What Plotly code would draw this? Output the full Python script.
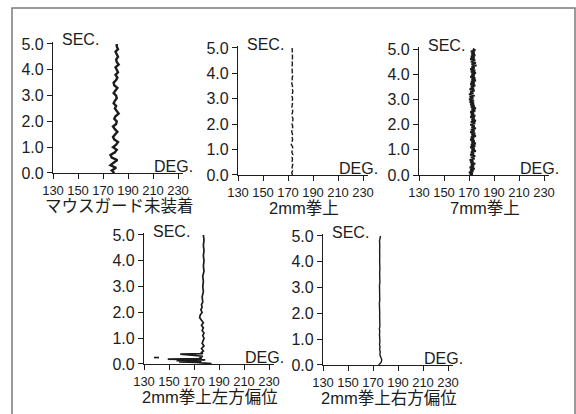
import plotly.graph_objects as go

W, H = 576, 414

# ---- data: head angle (DEG.) against time (SEC.) for each condition ----
titles = ["マウスガード未装着", "2mm拳上", "7mm拳上", "2mm拳上左方偏位", "2mm拳上右方偏位"]

x_ticks = [130, 150, 170, 190, 210, 230]
y_ticks = [0.0, 1.0, 2.0, 3.0, 4.0, 5.0]

sec_a = [0.0, 0.1, 0.2, 0.3, 0.4, 0.5, 0.6, 0.7, 0.8, 0.9,
         1.0, 1.1, 1.2, 1.3, 1.4, 1.5, 1.6, 1.7, 1.8, 1.9,
         2.0, 2.1, 2.2, 2.3, 2.4, 2.5, 2.6, 2.7, 2.8, 2.9,
         3.0, 3.1, 3.2, 3.3, 3.4, 3.5, 3.6, 3.7, 3.8, 3.9,
         4.0, 4.1, 4.2, 4.3, 4.4, 4.5, 4.6, 4.7, 4.8, 4.9, 5.0]

deg_no_guard = [179.0, 177.0, 180.5, 176.0, 178.5, 181.5, 177.0, 176.0, 179.5, 181.0,
                178.0, 180.5, 182.0, 179.0, 178.0, 180.0, 181.5, 179.5, 178.0, 180.5,
                181.0, 179.0, 180.0, 182.5, 181.0, 179.5, 180.5, 178.5, 179.5, 181.0,
                180.5, 178.5, 180.0, 181.5, 179.0, 178.5, 180.5, 181.5, 180.0, 182.0,
                181.0, 180.0, 182.5, 181.0, 180.5, 182.0, 181.0, 180.0, 182.0, 181.0, 181.0]

deg_2mm = [173.5, 173.0, 174.0, 173.2, 173.8, 173.0, 173.6, 173.3, 173.9, 173.1,
           173.5, 173.8, 172.6, 173.4, 173.7, 173.2, 173.6, 173.0, 173.5, 173.8,
           173.3, 173.7, 174.0, 173.4, 173.2, 173.8, 173.5, 173.1, 173.6, 173.3,
           173.7, 173.2, 173.5, 173.9, 173.4, 173.6, 173.0, 173.5, 173.3, 173.7,
           173.4, 173.2, 173.6, 173.3, 173.5, 173.1, 173.6, 173.4, 173.2, 173.5, 173.3]

sec_b = [0.00, 0.05, 0.10, 0.15, 0.20, 0.25, 0.30, 0.35, 0.40, 0.45,
         0.50, 0.55, 0.60, 0.65, 0.70, 0.75, 0.80, 0.85, 0.90, 0.95,
         1.00, 1.05, 1.10, 1.15, 1.20, 1.25, 1.30, 1.35, 1.40, 1.45,
         1.50, 1.55, 1.60, 1.65, 1.70, 1.75, 1.80, 1.85, 1.90, 1.95,
         2.00, 2.05, 2.10, 2.15, 2.20, 2.25, 2.30, 2.35, 2.40, 2.45,
         2.50, 2.55, 2.60, 2.65, 2.70, 2.75, 2.80, 2.85, 2.90, 2.95,
         3.00, 3.05, 3.10, 3.15, 3.20, 3.25, 3.30, 3.35, 3.40, 3.45,
         3.50, 3.55, 3.60, 3.65, 3.70, 3.75, 3.80, 3.85, 3.90, 3.95,
         4.00, 4.05, 4.10, 4.15, 4.20, 4.25, 4.30, 4.35, 4.40, 4.45,
         4.50, 4.55, 4.60, 4.65, 4.70, 4.75, 4.80, 4.85, 4.90, 4.95, 5.00]

deg_7mm = [170.5, 173.0, 170.0, 173.5, 171.0, 174.5, 170.5, 174.0, 171.5, 175.0,
           171.0, 173.5, 170.5, 174.5, 171.5, 175.0, 171.0, 174.0, 171.5, 175.5,
           172.0, 174.5, 171.0, 175.0, 171.5, 175.5, 172.0, 174.5, 171.0, 174.0,
           171.5, 175.5, 172.0, 175.0, 171.0, 174.5, 171.5, 175.5, 172.0, 174.5,
           171.0, 175.0, 171.5, 175.5, 172.0, 174.5, 171.0, 175.0, 171.5, 174.0,
           171.0, 175.0, 172.0, 175.5, 171.5, 174.5, 171.0, 174.0, 170.5, 174.0,
           170.0, 173.5, 170.5, 174.5, 170.0, 173.5, 171.0, 174.5, 170.5, 174.0,
           171.5, 175.0, 171.0, 174.5, 171.5, 175.5, 172.0, 175.0, 171.0, 174.5,
           172.0, 175.5, 171.5, 175.0, 171.0, 174.5, 172.0, 176.0, 172.0, 175.5,
           171.5, 175.0, 171.0, 174.5, 171.5, 175.0, 172.0, 174.5, 171.5, 175.0, 173.0]

# left-shift trial: large swings in the first half second, short isolated stroke near 140
sec_left = [0.00, 0.02, 0.04, 0.06, 0.08, 0.10, 0.11, 0.13, 0.15, 0.16,
            0.19, 0.21, 0.25, 0.30, 0.38, 0.40, 0.45, 0.50, 0.60, 0.70,
            0.80, 0.90, 1.00, 1.10, 1.20, 1.30, 1.40, 1.50, 1.60, 1.70,
            1.80, 1.90, 2.00, 2.10, 2.20, 2.30, 2.40, 2.60, 2.80, 3.00,
            3.20, 3.40, 3.60, 3.80, 4.00, 4.20, 4.40, 4.60, 4.80, 5.00,
            None, 0.25, 0.25]
deg_left = [178.0, 184.0, 176.0, 172.0, 158.0, 170.0, 176.0, 156.0, 174.0, 179.0,
            149.0, 176.0, 175.0, 177.0, 159.0, 177.0, 176.0, 177.5, 176.0, 178.0,
            176.5, 177.5, 178.0, 177.0, 178.0, 176.5, 177.5, 176.0, 177.5, 176.0,
            174.5, 175.0, 176.5, 175.5, 176.5, 176.0, 177.0, 176.5, 177.5, 177.0,
            177.5, 177.0, 178.0, 177.5, 178.0, 177.5, 178.0, 177.5, 178.0, 177.5,
            None, 138.0, 142.0]

deg_right = [174.5, 176.5, 177.0, 176.0, 175.5, 175.8, 175.3, 175.6, 175.2, 175.5,
             175.3, 175.6, 175.2, 175.4, 175.1, 175.5, 175.3, 175.2, 175.5, 175.3,
             175.4, 175.2, 175.5, 175.3, 175.1, 175.4, 175.3, 175.5, 175.2, 175.4,
             175.3, 175.2, 175.5, 175.3, 175.4, 175.2, 175.3, 175.5, 175.2, 175.4,
             175.3, 175.5, 175.2, 175.4, 175.3, 175.5, 175.3, 175.4, 175.2, 175.4, 176.0]

series = [
    (sec_a, deg_no_guard, dict(width=2.4, color="#1c1c1c")),
    (sec_a, deg_2mm, dict(width=1.4, color="#1c1c1c", dash="5px,2px")),
    (sec_b, deg_7mm, dict(width=2.0, color="#1c1c1c")),
    (sec_left, deg_left, dict(width=1.7, color="#1c1c1c")),
    (sec_a, deg_right, dict(width=1.4, color="#1c1c1c")),
]

# ---- panel placement in page pixels: origin (x of 130 DEG., y of 0 SEC.) and y of 5.0 SEC. ----
panels = [
    (53, 173, 44),
    (238, 175, 48),
    (419, 175, 49),
    (144, 364, 235),
    (323, 365, 236),
]
X_LEN = 130          # pixel length of each x axis
X_RANGE = [130, 234]
Y_TOP = 5.08

FONT = "Liberation Sans, Arial, Noto Sans CJK JP, sans-serif"
INK = "#1c1c1c"


def px(x):
    return x / W


def py(y):
    return 1 - y / H


fig = go.Figure()
layout = dict(
    template="none",
    width=W, height=H, autosize=False,
    margin=dict(l=0, r=0, t=0, b=0, pad=0),
    paper_bgcolor="white", plot_bgcolor="white",
    showlegend=False,
    font=dict(family=FONT, color=INK),
)
annotations = []

for i, ((x0, y0, y5), (sec, deg, line), title) in enumerate(zip(panels, series, titles)):
    n = "" if i == 0 else str(i + 1)
    per_sec = (y0 - y5) / 5.0
    y_top_px = y0 - Y_TOP * per_sec

    fig.add_trace(go.Scatter(x=deg, y=sec, mode="lines", line=line,
                             xaxis="x" + n, yaxis="y" + n, connectgaps=False,
                             hoverinfo="skip"))

    common = dict(showline=True, linecolor=INK, linewidth=1.3, ticks="outside",
                  ticklen=5, tickwidth=1.2, tickcolor=INK, showgrid=False,
                  zeroline=False, fixedrange=True, automargin=False, tickangle=0)
    layout["xaxis" + n] = dict(common, domain=[px(x0), px(x0 + X_LEN)], range=X_RANGE,
                               tickvals=x_ticks, anchor="y" + n,
                               tickfont=dict(size=13, color=INK))
    layout["yaxis" + n] = dict(common, domain=[py(y0), py(y_top_px)], range=[0, Y_TOP],
                               tickvals=y_ticks, tickformat=".1f", anchor="x" + n,
                               tickfont=dict(size=16, color=INK))

    annotations.append(dict(text="SEC.", x=px(x0 + 7), y=py(y5 - 4), xref="paper", yref="paper",
                            xanchor="left", yanchor="middle", showarrow=False,
                            font=dict(size=16, color=INK)))
    annotations.append(dict(text="DEG.", x=px(x0 + 142), y=py(y0 - 7), xref="paper", yref="paper",
                            xanchor="right", yanchor="middle", showarrow=False,
                            font=dict(size=16, color=INK)))
    annotations.append(dict(text=title, x=px(x0 + 66), y=py(y0 + 33), xref="paper", yref="paper",
                            xanchor="center", yanchor="middle", showarrow=False,
                            font=dict(size=16.5, color=INK)))

layout["annotations"] = annotations
# outer frame around the figure
layout["shapes"] = [dict(type="rect", xref="paper", yref="paper",
                         x0=px(12), x1=px(575), y0=py(417), y1=py(8),
                         line=dict(color="#7a7a7a", width=1.5), fillcolor="rgba(0,0,0,0)")]

fig.update_layout(**layout)
fig.write_html("out.html")
